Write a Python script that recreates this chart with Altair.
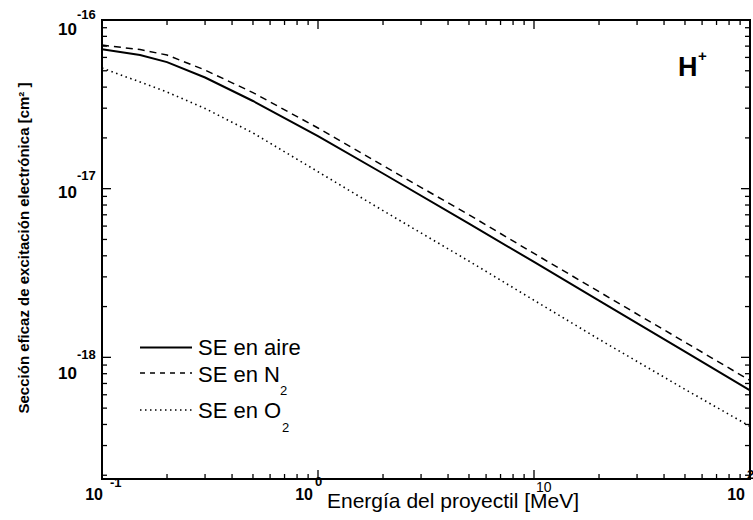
import altair as alt
import pandas as pd

# Proton energy (MeV) and electronic excitation cross sections (cm^2)
energia = [0.1, 0.15, 0.2, 0.3, 0.5, 1, 2, 5, 10, 20, 50, 100]
se_aire = [6.70e-17, 6.20e-17, 5.63e-17, 4.56e-17, 3.31e-17, 2.05e-17,
           1.23e-17, 6.20e-18, 3.68e-18, 2.17e-18, 1.08e-18, 6.37e-19]
se_n2 = [7.10e-17, 6.68e-17, 6.20e-17, 5.05e-17, 3.71e-17, 2.29e-17,
         1.37e-17, 7.00e-18, 4.13e-18, 2.45e-18, 1.23e-18, 7.30e-19]
se_o2 = [5.19e-17, 4.29e-17, 3.74e-17, 2.99e-17, 2.14e-17, 1.26e-17,
         7.41e-18, 3.72e-18, 2.18e-18, 1.28e-18, 6.46e-19, 3.90e-19]

series = ["SE en aire", "SE en N2", "SE en O2"]
legend_text = ["SE en aire", "SE en N", "SE en O"]
legend_sub = ["", "2", "2"]

x_domain = [0.1, 100]
y_domain = [1.9e-19, 1e-16]

# log tick layout
minor_mult = [2, 3, 4, 5, 6, 7, 8, 9]
x_major = [0.1, 1, 10, 100]
x_decades = [0.1, 1, 10]
y_major = [1e-18, 1e-17, 1e-16]
y_decades = [1e-19, 1e-18, 1e-17]

x_label_pos = [0.1, 1, 100]
x_label_exp = ["-1", "0", "2"]
y_label_pos = [1e-16, 1e-17, 1e-18]
y_label_exp = ["-16", "-17", "-18"]

FONT = "Liberation Sans"
W, H = 648, 459

xs = alt.Scale(type="log", domain=x_domain, nice=False)
ys = alt.Scale(type="log", domain=y_domain, nice=False)


def X(f):
    return alt.X(f"{f}:Q", scale=xs, axis=None)


def Y(f):
    return alt.Y(f"{f}:Q", scale=ys, axis=None)


layers = []

# curves
styles = [
    dict(strokeWidth=2.0),
    dict(strokeWidth=1.5, strokeDash=[7, 5]),
    dict(strokeWidth=1.6, strokeDash=[1.5, 3.5]),
]
for name, vals, st in zip(series, [se_aire, se_n2, se_o2], styles):
    df = pd.DataFrame({"E": energia, "SE": vals, "serie": name})
    layers.append(
        alt.Chart(df).mark_line(color="black", **st).encode(x=X("E"), y=Y("SE"))
    )

# inward ticks on all four sides
x_minor = [d * m for d in x_decades for m in minor_mult]
y_minor = [d * m for d in y_decades for m in minor_mult if d * m >= y_domain[0]]


def tick_layers(xvals, yvals, length):
    out = []
    dx = pd.DataFrame({"t": xvals})
    dy = pd.DataFrame({"t": yvals})
    rule = dict(color="black", strokeWidth=1.3)
    out.append(alt.Chart(dx).mark_rule(**rule).encode(
        x=X("t"), y=alt.value(H), y2=alt.value(H - length)))
    out.append(alt.Chart(dx).mark_rule(**rule).encode(
        x=X("t"), y=alt.value(0), y2=alt.value(length)))
    out.append(alt.Chart(dy).mark_rule(**rule).encode(
        y=Y("t"), x=alt.value(0), x2=alt.value(length)))
    out.append(alt.Chart(dy).mark_rule(**rule).encode(
        y=Y("t"), x=alt.value(W), x2=alt.value(W - length)))
    return out


layers += tick_layers(x_major, y_major, 9)
layers += tick_layers(x_minor, y_minor, 5)

# y tick labels: 10 with exponent
y_base_dy = [15, 9.5, 21.5]
y_exp_dy = [-1, -8.5, 1.5]
for v, e, db, de in zip(y_label_pos, y_label_exp, y_base_dy, y_exp_dy):
    d = pd.DataFrame({"v": [v], "base": ["10"], "exp": [e]})
    layers.append(alt.Chart(d).mark_text(
        font=FONT, fontSize=17, fontWeight="bold", align="right",
        baseline="alphabetic", dy=db).encode(
        x=alt.value(-25), y=Y("v"), text="base:N"))
    layers.append(alt.Chart(d).mark_text(
        font=FONT, fontSize=13, fontWeight="bold", align="left",
        baseline="alphabetic", dy=de).encode(
        x=alt.value(-25), y=Y("v"), text="exp:N"))

# x tick labels: 10 with exponent
x_base_dx = [1, -5, -5]
x_exp_dx = [8, -3, -3]
x_exp_y = [467, 466, 459]
for v, e, db, de, ey in zip(x_label_pos, x_label_exp, x_base_dx, x_exp_dx, x_exp_y):
    d = pd.DataFrame({"v": [v], "base": ["10"], "exp": [e]})
    layers.append(alt.Chart(d).mark_text(
        font=FONT, fontSize=16, fontWeight="bold", align="right",
        baseline="alphabetic", dx=db).encode(
        x=X("v"), y=alt.value(480), text="base:N"))
    layers.append(alt.Chart(d).mark_text(
        font=FONT, fontSize=13, fontWeight="bold", align="left",
        baseline="alphabetic", dx=de).encode(
        x=X("v"), y=alt.value(ey), text="exp:N"))

# plain label at 10 MeV
layers.append(alt.Chart(pd.DataFrame({"v": [10], "t": ["10"]})).mark_text(
    font=FONT, fontSize=14, align="left", baseline="alphabetic", dx=2).encode(
    x=X("v"), y=alt.value(472), text="t:N"))

# axis titles
layers.append(alt.Chart(pd.DataFrame({"t": ["Energía del proyectil [MeV]"]})).mark_text(
    font=FONT, fontSize=21, align="left", baseline="alphabetic").encode(
    x=alt.value(225), y=alt.value(488), text="t:N"))
layers.append(alt.Chart(pd.DataFrame(
    {"t": ["Sección eficaz de excitación electrónica  [cm² ]"]})).mark_text(
    font=FONT, fontSize=15, fontWeight="bold", align="center",
    baseline="middle", angle=270).encode(
    x=alt.value(-78), y=alt.value(228), text="t:N"))

# ion label
layers.append(alt.Chart(pd.DataFrame({"t": ["H"]})).mark_text(
    font=FONT, fontSize=27, fontWeight="bold", align="left",
    baseline="alphabetic").encode(x=alt.value(576), y=alt.value(56), text="t:N"))
layers.append(alt.Chart(pd.DataFrame({"t": ["+"]})).mark_text(
    font=FONT, fontSize=15, fontWeight="bold", align="left",
    baseline="alphabetic").encode(x=alt.value(596), y=alt.value(41), text="t:N"))

# legend
leg_line_y = [327.5, 353, 390]
leg_text_y = [335, 362, 398]
leg_sub_x = [0, 178, 180]
leg_sub_y = [0, 375, 412]
for i in range(3):
    st = dict(styles[i])
    if i == 1:
        st["strokeDash"] = [5, 5]
    d = pd.DataFrame({"t": [legend_text[i]], "s": [legend_sub[i]]})
    layers.append(alt.Chart(d).mark_rule(color="black", **st).encode(
        x=alt.value(38), x2=alt.value(90), y=alt.value(leg_line_y[i])))
    layers.append(alt.Chart(d).mark_text(
        font=FONT, fontSize=22, align="left", baseline="alphabetic").encode(
        x=alt.value(96), y=alt.value(leg_text_y[i]), text="t:N"))
    if legend_sub[i]:
        layers.append(alt.Chart(d).mark_text(
            font=FONT, fontSize=13, align="left", baseline="alphabetic").encode(
            x=alt.value(leg_sub_x[i]), y=alt.value(leg_sub_y[i]), text="s:N"))

chart = alt.layer(*layers).properties(
    width=W, height=H,
    autosize=alt.AutoSizeParams(type="none"),
    padding={"left": 102, "top": 20, "right": 3, "bottom": 41},
    background="white",
).configure_view(stroke="black", strokeWidth=2)

chart.save("out.html", embed_options={"renderer": "svg", "actions": False})
